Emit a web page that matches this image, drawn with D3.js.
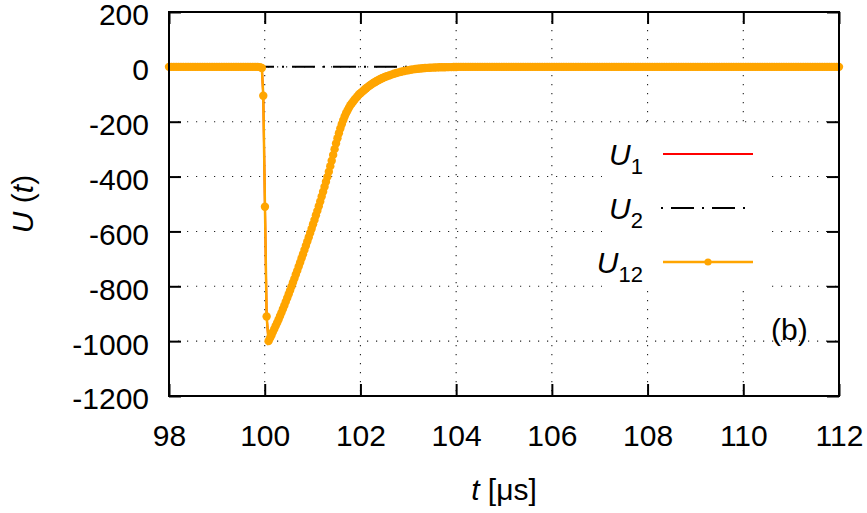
<!DOCTYPE html>
<html>
<head>
<meta charset="utf-8">
<script src="https://cdn.jsdelivr.net/npm/d3@7"></script>
<style>
body{margin:0;background:#fff;}
text{font-family:"Liberation Sans",Arial,sans-serif;fill:#000;}
</style>
</head>
<body>
<div id="chart"></div>
<script>
// tick values
var xTicks=[98,100,102,104,106,108,110,112];
var yTicks=[200,0,-200,-400,-600,-800,-1000,-1200];

// U12 samples, time in microseconds
var tBefore=[98,98.05,98.1,98.15,98.2,98.25,98.3,98.35,98.4,98.45,98.5,98.55,98.6,98.65,98.7,98.75,98.8,98.85,98.9,98.95,
  99,99.05,99.1,99.15,99.2,99.25,99.3,99.35,99.4,99.45,99.5,99.55,99.6,99.65,99.7,99.75,99.8,99.85,99.9];
var uBefore=[0,0,0,0,0,0,0,0,0,0,0,0,0,0,0,0,0,0,0,0,
  0,0,0,0,0,0,0,0,0,0,0,0,0,0,0,0,0,0,-1];

var tPulse=[99.94,99.97,100.005,100.04,100.08,
  100.11,100.14,100.17,100.2,100.23,100.26,100.29,100.32,100.35,100.38,100.41,100.44,100.47,100.5,100.53,100.56,
  100.59,100.62,100.65,100.68,100.71,100.74,100.77,100.8,100.83,100.86,100.89,100.92,100.95,
  100.98,101.01,101.04,101.07,101.1,101.13,101.16,101.19,101.22,101.25,101.28,101.31,
  101.34,101.37,101.4,101.43,101.46,101.49,101.52,101.55,101.58,101.61,
  101.64,101.67,101.7,101.73,101.76,101.79,101.82,101.85,101.88,101.91,101.94,101.97,102,102.03,
  102.06,102.09,102.12,102.15,102.18,102.21,102.24,102.27,102.3,102.33,102.36,102.39,102.42,102.45,102.48,102.51];
var uPulse=[-4,-105,-510,-910,-1000,
  -989,-979,-967,-956,-944,-933,-921,-908,-896,-883,-870,-856,-843,-829,-815,-801,
  -786,-772,-757,-743,-728,-713,-698,-683,-668,-652,-637,-621,-606,
  -590,-574,-558,-541,-525,-508,-491,-473,-455,-437,-419,-401,
  -382,-362,-342,-321,-300,-279,-260,-242,-225,-209,
  -195,-181,-169,-159,-149,-140,-133,-126,-119,-113,-107,-101,-96,-92,
  -86.8,-82.3,-78,-73.8,-69.8,-66,-62.4,-59,-55.8,-52.6,-49.7,-46.9,-44.2,-41.7,-39.3,-37.1];

var tAfter=[102.55,102.6,102.65,102.7,102.75,102.8,102.85,102.9,102.95,103,
  103.05,103.1,103.15,103.2,103.25,103.3,103.35,103.4,103.45,103.5,103.55,103.6,103.65,103.7,103.75,103.8,103.85,103.9,103.95,104,
  104.05,104.1,104.15,104.2,104.25,104.3,104.35,104.4,104.45,104.5,104.55,104.6,104.65,104.7,104.75,104.8,104.85,104.9,104.95,105,
  105.05,105.1,105.15,105.2,105.25,105.3,105.35,105.4,105.45,105.5,105.55,105.6,105.65,105.7,105.75,105.8,105.85,105.9,105.95,106,
  106.05,106.1,106.15,106.2,106.25,106.3,106.35,106.4,106.45,106.5,106.55,106.6,106.65,106.7,106.75,106.8,106.85,106.9,106.95,107,
  107.05,107.1,107.15,107.2,107.25,107.3,107.35,107.4,107.45,107.5,107.55,107.6,107.65,107.7,107.75,107.8,107.85,107.9,107.95,108,
  108.05,108.1,108.15,108.2,108.25,108.3,108.35,108.4,108.45,108.5,108.55,108.6,108.65,108.7,108.75,108.8,108.85,108.9,108.95,109,
  109.05,109.1,109.15,109.2,109.25,109.3,109.35,109.4,109.45,109.5,109.55,109.6,109.65,109.7,109.75,109.8,109.85,109.9,109.95,110,
  110.05,110.1,110.15,110.2,110.25,110.3,110.35,110.4,110.45,110.5,110.55,110.6,110.65,110.7,110.75,110.8,110.85,110.9,110.95,111,
  111.05,111.1,111.15,111.2,111.25,111.3,111.35,111.4,111.45,111.5,111.55,111.6,111.65,111.7,111.75,111.8,111.85,111.9,111.95,112];
var uAfter=[-34.3,-31.2,-28.2,-25.3,-22.6,-20.1,-17.8,-15.7,-13.8,-12.1,
  -10.6,-9.2,-8,-6.9,-5.9,-5,-4.3,-3.7,-3.2,-2.7,-2.3,-2,-1.7,-1.5,-1.3,-1.1,-0.9,-0.8,-0.7,-0.6,
  0,0,0,0,0,0,0,0,0,0,0,0,0,0,0,0,0,0,0,0,
  0,0,0,0,0,0,0,0,0,0,0,0,0,0,0,0,0,0,0,0,
  0,0,0,0,0,0,0,0,0,0,0,0,0,0,0,0,0,0,0,0,
  0,0,0,0,0,0,0,0,0,0,0,0,0,0,0,0,0,0,0,0,
  0,0,0,0,0,0,0,0,0,0,0,0,0,0,0,0,0,0,0,0,
  0,0,0,0,0,0,0,0,0,0,0,0,0,0,0,0,0,0,0,0,
  0,0,0,0,0,0,0,0,0,0,0,0,0,0,0,0,0,0,0,0,
  0,0,0,0,0,0,0,0,0,0,0,0,0,0,0,0,0,0,0,0];

// U2 stays at zero over the whole window
var tU2=[98,112];
var uU2=[0,0];

var tU12=tBefore.concat(tPulse,tAfter);
var uU12=uBefore.concat(uPulse,uAfter);
// U1 lies under U12 (same curve, hidden)
var tU1=tU12, uU1=uU12;

var width=867,height=513;
var margin={left:169,right:28,top:12,bottom:117};
var w=width-margin.left-margin.right;
var h=height-margin.top-margin.bottom;
var fs=30;

var svg=d3.select('#chart').append('svg')
    .attr('width',width)
    .attr('height',height);
var g=svg.append('g').attr('transform','translate('+margin.left+','+margin.top+')');

var xscale=d3.scaleLinear().domain([98,112]).range([0,w]);
var yscale=d3.scaleLinear().domain([-1200,200]).range([h,0]);

// dotted grid
var grid=g.append('g').attr('stroke','#222').attr('stroke-width',1.1).attr('stroke-dasharray','1.2,7.8');
grid.selectAll('.gx').data(xTicks).enter().append('line')
    .attr('x1',function(d){return xscale(d)}).attr('x2',function(d){return xscale(d)})
    .attr('y1',0).attr('y2',h);
grid.selectAll('.gy').data(yTicks).enter().append('line')
    .attr('y1',function(d){return yscale(d)}).attr('y2',function(d){return yscale(d)})
    .attr('x1',0).attr('x2',w);

// legend background hides the grid
var legX=602-margin.left, legY=128-margin.top;
g.append('rect').attr('x',legX).attr('y',legY).attr('width',170).attr('height',162).attr('fill','#fff');

// axes, ticks inward on all sides
var fmt=function(d){return String(d)};
var xAxis=g.append('g').attr('transform','translate(0,'+h+')')
    .call(d3.axisBottom(xscale).tickValues(xTicks).tickSize(-12).tickPadding(29).tickFormat(fmt));
var yAxis=g.append('g')
    .call(d3.axisLeft(yscale).tickValues(yTicks).tickSize(-12).tickPadding(20).tickFormat(fmt));
var xTop=g.append('g').call(d3.axisTop(xscale).tickValues(xTicks).tickSize(-12).tickFormat(''));
var yRight=g.append('g').attr('transform','translate('+w+',0)')
    .call(d3.axisRight(yscale).tickValues(yTicks).tickSize(-12).tickFormat(''));
[xAxis,yAxis,xTop,yRight].forEach(function(a){
    a.select('.domain').remove();
    a.selectAll('.tick line').attr('stroke','#000').attr('stroke-width',2);
    a.selectAll('text').style('font-size',fs+'px').style('font-family','"Liberation Sans",Arial,sans-serif').attr('fill','#000');
});
yAxis.selectAll('text').attr('dy','0.43em');

// curves
var line=d3.line().x(function(d){return xscale(d[0])}).y(function(d){return yscale(d[1])});
var d1=tU1.map(function(t,i){return [t,uU1[i]]});
var d2=tU2.map(function(t,i){return [t,uU2[i]]});
var d12=tU12.map(function(t,i){return [t,uU12[i]]});

g.append('path').datum(d1).attr('d',line).attr('fill','none').attr('stroke','#ff0000').attr('stroke-width',2);
g.append('path').datum(d2).attr('d',line).attr('fill','none').attr('stroke','#000').attr('stroke-width',2)
    .attr('stroke-dasharray','23,8,2,8');
g.append('path').datum(d12).attr('d',line).attr('fill','none').attr('stroke','#ffa500').attr('stroke-width',2.5);
g.append('g').selectAll('circle').data(d12).enter().append('circle')
    .attr('cx',function(d){return xscale(d[0])})
    .attr('cy',function(d){return yscale(d[1])})
    .attr('r',4.2)
    .attr('fill','#ffa500');

// border
g.append('rect').attr('x',0).attr('y',0).attr('width',w).attr('height',h)
    .attr('fill','none').attr('stroke','#000').attr('stroke-width',2);

// legend
var legend=[
    {sub:'1',color:'#ff0000',dash:null,dot:false,y:154},
    {sub:'2',color:'#000',dash:'23,8,2,8',dot:false,y:208},
    {sub:'12',color:'#ffa500',dash:null,dot:true,y:262}
];
legend.forEach(function(L){
    var txt=svg.append('text').attr('x',643).attr('y',L.y+11).attr('text-anchor','end').style('font-size',fs+'px');
    txt.append('tspan').style('font-style','italic').text('U');
    txt.append('tspan').attr('dy',9).style('font-size','22px').text(L.sub);
    var ln=svg.append('line').attr('x1',663).attr('x2',753).attr('y1',L.y).attr('y2',L.y)
        .attr('stroke',L.color).attr('stroke-width',L.dot?2.5:2);
    if(L.dash){ln.attr('stroke-dasharray','2,8,23,8').attr('x1',661);}
    if(L.dot){svg.append('circle').attr('cx',708).attr('cy',L.y).attr('r',3.6).attr('fill',L.color);}
});

// panel label
svg.append('text').attr('x',771).attr('y',340).style('font-size',fs+'px').text('(b)');

// axis titles
var yt=svg.append('text').attr('transform','translate(33,204) rotate(-90)').attr('text-anchor','middle').style('font-size',fs+'px');
yt.append('tspan').style('font-style','italic').text('U');
yt.append('tspan').text(' (');
yt.append('tspan').style('font-style','italic').text('t');
yt.append('tspan').text(')');

var xt=svg.append('text').attr('x',504).attr('y',500).attr('text-anchor','middle').style('font-size',fs+'px');
xt.append('tspan').style('font-style','italic').text('t');
xt.append('tspan').text(' [μs]');
</script>
</body>
</html>
